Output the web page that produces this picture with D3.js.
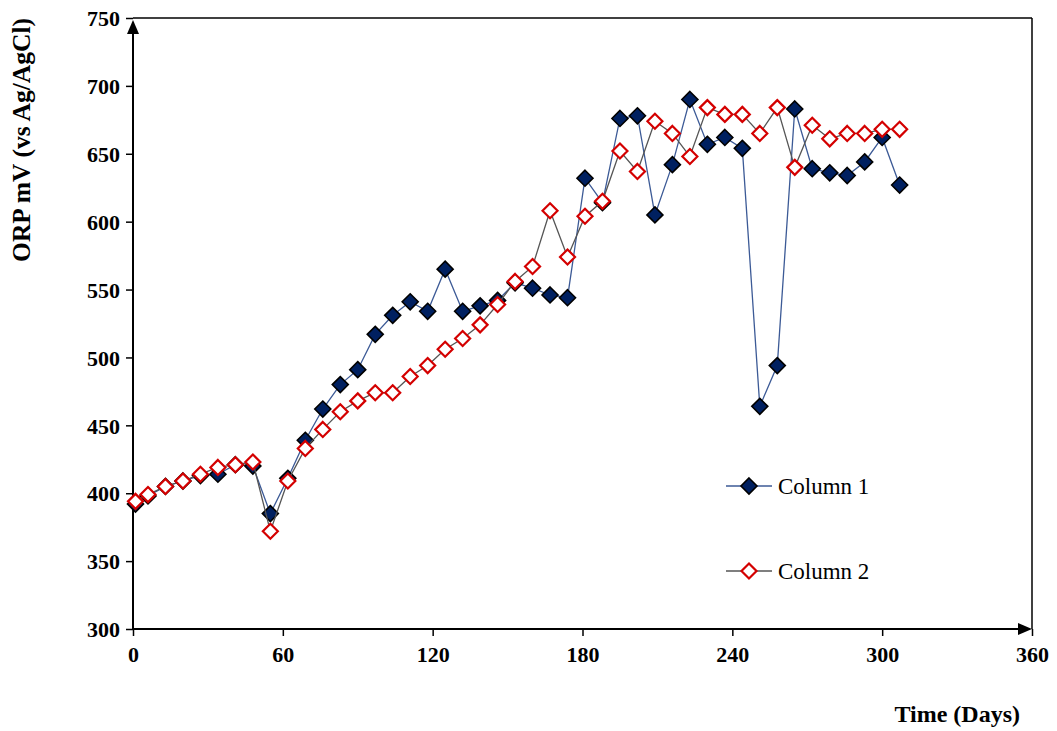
<!DOCTYPE html>
<html><head><meta charset="utf-8">
<script src="https://cdn.jsdelivr.net/npm/d3@7"></script>
<style>body{margin:0;background:#fff}svg{display:block}</style>
</head><body>
<script>
const days = [1,6,13,20,27,34,41,48,55,62,69,76,83,90,97,104,111,118,125,132,139,146,153,160,167,174,181,188,195,202,209,216,223,230,237,244,251,258,265,272,279,286,293,300,307];
const column1 = [392,398,405,409,413,414,421,420,385,411,439,462,480,491,517,531,541,534,565,534,538,542,555,551,546,544,632,614,676,678,605,642,690,657,662,654,464,494,683,639,636,634,644,662,627];
const column2 = [394,399,405,409,414,419,421,423,372,409,433,447,460,468,474,474,486,494,506,514,524,539,556,567,608,574,604,615,652,637,674,665,648,684,679,679,665,684,640,671,661,665,665,668,668];
const xTicks = [0,60,120,180,240,300,360];
const yTicks = [300,350,400,450,500,550,600,650,700,750];
const seriesNames = ["Column 1","Column 2"];

const W = 1057, H = 731;
const L = 133, R = 1032, T = 18, B = 629;
const svg = d3.select("body").append("svg").attr("width", W).attr("height", H);
const x = d3.scaleLinear().domain([0,360]).range([L,R]);
const y = d3.scaleLinear().domain([300,750]).range([B,T]);
const font = "'Liberation Serif','Times New Roman',serif";

// frame top/right
svg.append("line").attr("x1",L).attr("x2",R).attr("y1",T).attr("y2",T).attr("stroke","#000").attr("stroke-width",1.5);
svg.append("line").attr("x1",R).attr("x2",R).attr("y1",T).attr("y2",B).attr("stroke","#000").attr("stroke-width",1.5);

// axes
const xAxis = d3.axisBottom(x).tickValues(xTicks).tickSize(7).tickPadding(10);
const gx = svg.append("g").attr("transform",`translate(0,${B})`).call(xAxis);
const yAxis = d3.axisLeft(y).tickValues(yTicks).tickSize(7).tickPadding(6);
const gy = svg.append("g").attr("transform",`translate(${L},0)`).call(yAxis);
[gx,gy].forEach(g=>{
  g.select(".domain").remove();
  g.selectAll(".tick line").attr("stroke","#000").attr("stroke-width",1.5);
  g.selectAll(".tick text").attr("fill","#000").style("font-family",font).style("font-weight","bold").style("font-size","22px");
});
gy.selectAll(".tick text").attr("dy","0.35em");

// axis lines with arrows
svg.append("line").attr("x1",L).attr("x2",R-12).attr("y1",B).attr("y2",B).attr("stroke","#000").attr("stroke-width",2);
svg.append("path").attr("d",`M${R},${B} L${R-14},${B-6} L${R-14},${B+6} Z`).attr("fill","#000");
svg.append("line").attr("x1",L).attr("x2",L).attr("y1",B).attr("y2",T+12).attr("stroke","#000").attr("stroke-width",2);
svg.append("path").attr("d",`M${L},${T+2} L${L-6},${T+16} L${L+6},${T+16} Z`).attr("fill","#000");

// titles
svg.append("text").attr("x",1020).attr("y",722).attr("text-anchor","end")
  .style("font-family",font).style("font-weight","bold").style("font-size","24px").text("Time (Days)");
svg.append("text").attr("transform","translate(30,140) rotate(-90)").attr("text-anchor","middle")
  .style("font-family",font).style("font-weight","bold").style("font-size","25.5px").text("ORP mV (vs Ag/AgCl)");

const diamond = s => `M0,${-s} L${s},0 L0,${s} L${-s},0 Z`;
const styles = [
  {line:"#3c5a96", fill:"#002060", stroke:"#000", sw:1.6, s:8},
  {line:"#555555", fill:"#ffffff", stroke:"#d40000", sw:2.2, s:7.5}
];
const data = [column1, column2];
const lineGen = d3.line().x(d=>x(d[0])).y(d=>y(d[1]));
data.forEach((vals,i)=>{
  const pts = days.map((d,j)=>[d, vals[j]]);
  const st = styles[i];
  svg.append("path").datum(pts).attr("d",lineGen).attr("fill","none").attr("stroke",st.line).attr("stroke-width",1.3);
  svg.append("g").selectAll("path").data(pts).join("path")
    .attr("d",diamond(st.s)).attr("transform",d=>`translate(${x(d[0])},${y(d[1])})`)
    .attr("fill",st.fill).attr("stroke",st.stroke).attr("stroke-width",st.sw);
});

// legend
const legY = [486, 571];
seriesNames.forEach((n,i)=>{
  const st = styles[i];
  const g = svg.append("g").attr("transform",`translate(0,${legY[i]})`);
  g.append("line").attr("x1",726).attr("x2",772).attr("stroke",st.line).attr("stroke-width",1.3);
  g.append("path").attr("d",diamond(st.s)).attr("transform","translate(749,0)")
    .attr("fill",st.fill).attr("stroke",st.stroke).attr("stroke-width",st.sw);
  g.append("text").attr("x",778).attr("dy","0.35em").style("font-family",font).style("font-size","23px").attr("fill","#000").text(n);
});
</script>
</body></html>
